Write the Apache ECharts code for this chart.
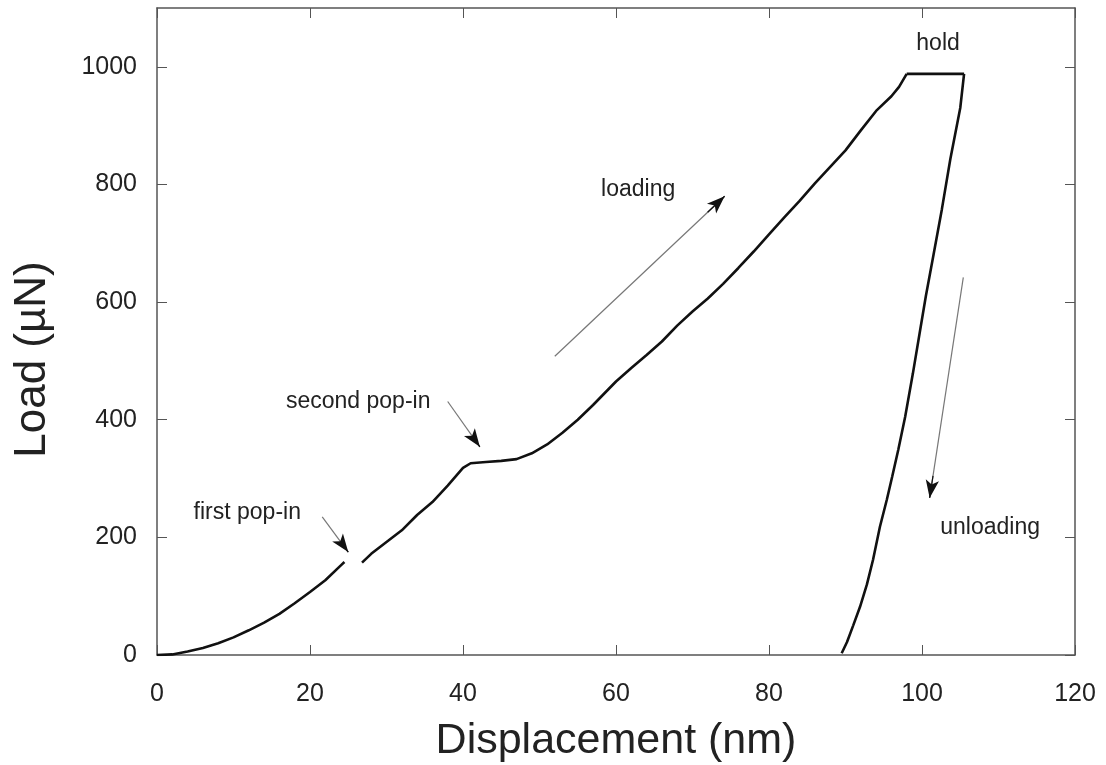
<!DOCTYPE html>
<html>
<head>
<meta charset="utf-8">
<script src="https://cdn.jsdelivr.net/npm/echarts@6/dist/echarts.min.js"></script>
<style>html,body{margin:0;padding:0;background:#fff}#c{width:1106px;height:765px}</style>
</head>
<body>
<div id="c"></div>
<script>
// ---- data ----
const xTicks = [0, 20, 40, 60, 80, 100, 120];
const yTicks = [0, 200, 400, 600, 800, 1000];

// loading branch (null = gap at the first pop-in)
const loading = [
  [0,0],[2,1],[4,6],[6,12],[8,20],[10,30],[12,42],[14,55],[16,70],[18,88],[20,107],
  [22,127],[24,152],[24.5,158],[null,null],
  [26.8,157],[28,172],[30,192],[32,212],[34,238],[36,260],[38,288],[40,318],[41,326],
  [43,328],[45,330],[47,333],[49,343],[51,358],[53,378],[55,400],[57,425],[60,465],
  [62,488],[64,510],[66,533],[68,560],[70,584],[72,606],[74,631],[76,658],[78,686],
  [80,715],[82,744],[84,772],[86,802],[88,830],[90,858],[92,892],[94,925],[96,950],
  [97,966],[98,988]
];
const hold = [[98,988],[105.5,988]];
const unloading = [
  [105.5,988],[105,930],[103.7,843],[102.6,758],[101.5,680],[100.5,610],[99.7,548],
  [98.8,478],[97.8,405],[96.9,349],[96.1,303],[95.4,264],[94.5,218],[93.6,162],
  [92.8,120],[91.9,82],[91,50],[90.2,22],[89.5,3]
];

// annotations: label text and anchor (data coords)
const labels = [
  {text:'hold', at:[102.1,1039]},
  {text:'loading', at:[62.9,792]},
  {text:'unloading', at:[108.9,216]},
  {text:'second pop-in', at:[26.3,431]},
  {text:'first pop-in', at:[11.8,242]}
];
// arrows: from -> to (data coords)
const arrows = [
  {from:[52.0,508], to:[74.2,780]},
  {from:[105.4,642], to:[101.0,267]},
  {from:[38.0,431], to:[42.2,354]},
  {from:[21.6,235], to:[25.0,175]}
];

// ---- chart ----
const chart = echarts.init(document.getElementById('c'), null, {renderer:'canvas'});
const font = 'Liberation Sans, Arial, Helvetica, sans-serif';
const axisCol = '#555';

const arrowLines = [];
arrows.forEach(a => {
  arrowLines.push([{coord:a.from, symbol:'none', lineStyle:{color:'#777', width:1.2, type:'solid'}}, {coord:a.to, symbol:'none'}]);
  const f = 0.9;
  const mid = [a.from[0] + (a.to[0]-a.from[0])*f, a.from[1] + (a.to[1]-a.from[1])*f];
  arrowLines.push([{coord:mid, symbol:'none', lineStyle:{color:'#111', width:1.2, type:'solid'}}, {coord:a.to, symbol:'arrow', symbolSize:[10,18]}]);
});

const lineStyle = {color:'#111', width:2.6};
function xAxisBase() {
  return {
    type:'value', min:0, max:120, interval:20,
    axisLine:{show:true, onZero:false, lineStyle:{color:axisCol, width:1.5}},
    axisTick:{show:true, inside:true, length:10, lineStyle:{color:axisCol, width:1}, customValues:xTicks},
    splitLine:{show:false}
  };
}
function yAxisBase() {
  return {
    type:'value', min:0, max:1100, interval:100,
    axisLine:{show:true, onZero:false, lineStyle:{color:axisCol, width:1.5}},
    axisTick:{show:true, inside:true, length:10, lineStyle:{color:axisCol, width:1}, customValues:yTicks},
    splitLine:{show:false}
  };
}

chart.setOption({
  animation:false,
  backgroundColor:'#fff',
  grid:{left:157, right:31, top:8, bottom:110, containLabel:false, outerBoundsMode:'none'},
  xAxis:[
    Object.assign(xAxisBase(), {
      position:'bottom',
      name:'Displacement (nm)', nameLocation:'middle', nameGap:65,
      nameTextStyle:{fontFamily:font, fontSize:43, color:'#222'},
      axisLabel:{show:true, margin:27, fontFamily:font, fontSize:25, color:'#222', customValues:xTicks, formatter: v => String(v)}
    }),
    Object.assign(xAxisBase(), {position:'top', axisLabel:{show:false}})
  ],
  yAxis:[
    Object.assign(yAxisBase(), {
      position:'left',
      name:'Load (\u00B5N)', nameLocation:'middle', nameGap:102,
      nameTextStyle:{fontFamily:font, fontSize:44, color:'#222', padding:[0,56,0,0]},
      axisLabel:{show:true, margin:20, fontFamily:font, fontSize:25, color:'#222', customValues:yTicks, formatter: v => String(v)}
    }),
    Object.assign(yAxisBase(), {position:'right', axisLabel:{show:false}})
  ],
  series:[
    {type:'line', name:'loading', data:loading, showSymbol:false, connectNulls:false, lineStyle:lineStyle, silent:true,
     markLine:{silent:true, symbol:['none','none'], label:{show:false}, data:arrowLines, animation:false},
     markPoint:{silent:true, symbol:'rect', symbolSize:0,
       label:{show:true, position:'inside', fontFamily:font, fontSize:23, color:'#222', formatter: p => p.name},
       data: labels.map(l => ({name:l.text, coord:l.at}))}
    },
    {type:'line', name:'hold', data:hold, showSymbol:false, lineStyle:lineStyle, silent:true},
    {type:'line', name:'unloading', data:unloading, showSymbol:false, lineStyle:lineStyle, silent:true}
  ]
});
</script>
</body>
</html>
